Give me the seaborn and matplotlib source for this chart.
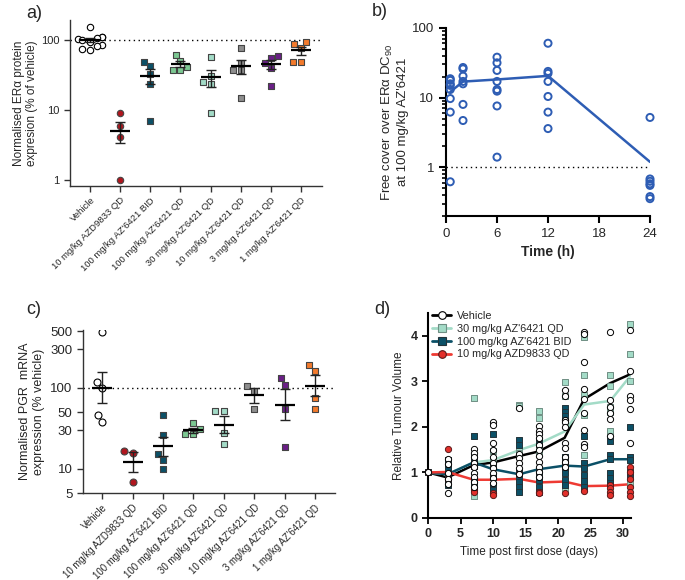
import numpy as np
import pandas as pd
import matplotlib
matplotlib.use("Agg")
import matplotlib.pyplot as plt
from matplotlib.lines import Line2D
from matplotlib.ticker import NullLocator, FixedLocator
import seaborn as sns

# ---------------- data ----------------
# a) / c) treatment groups
groups = ["Vehicle", "10 mg/kg AZD9833 QD", "100 mg/kg AZ'6421 BID",
          "100 mg/kg AZ'6421 QD", "30 mg/kg AZ'6421 QD", "10 mg/kg AZ'6421 QD",
          "3 mg/kg AZ'6421 QD", "1 mg/kg AZ'6421 QD"]
group_colors = ["white", "#b0161e", "#0b5067", "#7cc892", "#a3dbc7",
                "#8e8e8e", "#6a1f86", "#f37a2c"]
group_markers = ["o", "o", "s", "s", "s", "s", "s", "s"]

# a) ERα protein, % of vehicle
era_vehicle = [155, 112, 110, 108, 104, 100, 95, 86, 84, 75, 73]
era_azd9833 = [9.0, 6.0, 4.1, 1.0]
era_bid100 = [49.5, 43, 32.4, 24, 7.0]
era_qd100 = [62, 51, 42, 37, 37]
era_qd30 = [58.5, 31, 25.4, 24, 9]
era_qd10 = [77, 48, 37, 37, 15]
era_qd3 = [60, 56.5, 48, 40.7, 21.8]
era_qd1 = [93.6, 87.7, 78.5, 49.5, 49.5]

# c) PGR mRNA, % vehicle
pgr_vehicle = [497, 119, 100, 46.4, 38.3]
pgr_azd9833 = [16.5, 15.7, 6.9]
pgr_bid100 = [46.4, 26.1, 15.4, 12.7, 10.0]
pgr_qd100 = [36.5, 30.7, 26.6, 26.6]
pgr_qd30 = [51.1, 52.1, 27.9, 20.3]
pgr_qd10 = [105, 92.6, 54.1]
pgr_qd3 = [133, 108, 54, 18.8]
pgr_qd1 = [162, 190, 75, 55]

# b) free cover over ERα DC90
pk_times = [0.5, 2, 6, 12, 24]
cover_0h5 = [18.7, 17.7, 15.8, 15.0, 13.1, 9.7, 6.2, 0.62]
cover_2h = [27.1, 25.9, 20.4, 17.1, 15.8, 8.0, 4.7]
cover_6h = [38.1, 31.6, 24.6, 17.1, 13.1, 12.4, 7.6, 1.4]
cover_12h = [60.4, 23.8, 22.3, 17.1, 10.4, 6.2, 3.6]
cover_24h = [5.2, 0.68, 0.63, 0.58, 0.55, 0.38, 0.355]

# d) relative tumour volume
days = [0, 3, 7, 10, 14, 17, 21, 24, 28, 31]
veh_mean = [1.0, 0.89, 1.16, 1.22, 1.36, 1.46, 1.76, 2.61, 2.96, 3.15]
qd30_mean = [1.0, 0.96, 1.22, 1.27, 1.49, 1.63, 1.90, 2.49, 2.57, 3.10]
bid_mean = [1.0, 0.96, 1.22, 1.07, 0.96, 1.07, 1.15, 1.13, 1.29, 1.29]
azd_mean = [1.0, 1.01, 0.84, 0.84, 0.86, 0.78, 0.80, 0.70, 0.71, 0.74]

veh_rtv = [[1.0],
           [1.29, 1.18, 0.98, 0.85, 0.74, 0.55],
           [1.51, 1.43, 1.33, 1.21, 1.11, 0.99, 0.90, 0.79, 0.68],
           [2.10, 2.04, 1.65, 1.49, 1.33, 1.21, 1.09, 0.98, 0.87, 0.76],
           [2.41, 1.40, 1.31, 1.20, 1.09, 0.96],
           [2.01, 1.92, 1.85, 1.75, 1.60, 1.49, 1.36, 1.24, 1.13, 1.01, 0.90],
           [2.82, 2.68, 2.15, 2.10, 1.99, 1.64, 1.53, 1.35, 1.24, 1.13],
           [4.09, 4.04, 3.43, 2.83, 2.62, 2.30, 1.93, 1.63, 1.55],
           [4.09, 2.58, 2.43, 2.30, 2.18, 1.79],
           [4.12, 3.22, 2.67, 2.60, 2.39, 1.65]]
qd30_rtv = [[1.0],
            [0.97],
            [2.63, 1.25, 0.48],
            [1.46, 1.30],
            [2.49, 2.45, 1.49, 1.43],
            [2.34, 2.19, 1.48],
            [2.98, 2.67, 2.26, 0.72, 0.65],
            [3.98, 3.13, 2.71, 2.26, 1.38, 0.65],
            [3.13, 2.90, 2.43, 2.32, 1.91, 0.78],
            [4.26, 3.59, 3.01, 0.77]]
bid_rtv = [[1.0],
           [1.28, 1.15, 1.05, 0.95, 0.85, 0.72],
           [1.80, 1.31, 1.24, 1.14, 0.83, 0.76, 0.65],
           [1.85, 1.16, 0.90, 0.72, 0.61],
           [1.71, 1.60, 1.01, 0.90, 0.79, 0.68, 0.57],
           [1.71, 1.63, 0.98, 0.83, 0.68, 0.57],
           [2.41, 2.32, 2.23, 1.35, 1.20, 1.09, 0.98, 0.83, 0.72],
           [1.79, 1.20, 1.09, 0.95, 0.82, 0.68],
           [1.68, 1.38, 1.29, 0.98, 0.87, 0.76],
           [1.99, 1.35, 1.27, 1.01, 0.90]]
azd_rtv = [[1.0],
           [1.51, 0.98, 0.85],
           [0.61, 0.56],
           [0.54, 0.50],
           [0.96],
           [0.57, 0.54],
           [0.55],
           [0.59],
           [0.72, 0.65, 0.57, 0.50],
           [1.13, 1.01, 0.85, 0.68, 0.57, 0.48]]

BLUE = "#2e5db4"

# ---------------- style ----------------
sns.set_theme(style="ticks")
plt.rcParams["font.family"] = ["Liberation Sans", "DejaVu Sans"]
plt.rcParams["mathtext.default"] = "regular"
plt.rcParams["axes.unicode_minus"] = False

W, H = 685, 580
fig = plt.figure(figsize=(W / 100, H / 100), dpi=100)


def px_axes(left, top, right, bottom):
    """axes from pixel box"""
    return fig.add_axes([left / W, 1 - bottom / H, (right - left) / W, (bottom - top) / H])


def dot_panel(ax, values, geometric, size, tick_fs, lab_fs):
    ax.set_yscale("log")
    for i, vals in enumerate(values):
        edge = "black" if i == 0 else "#444444"
        sns.swarmplot(x=[groups[i]] * len(vals), y=vals, order=groups, ax=ax,
                      marker=group_markers[i], color=group_colors[i],
                      edgecolor=edge, linewidth=0.8, size=size, zorder=3)
        v = np.asarray(vals, dtype=float)
        if geometric:
            lv = np.log10(v)
            se = lv.std(ddof=1) / np.sqrt(len(lv))
            mean, lo, hi = 10 ** lv.mean(), 10 ** (lv.mean() - se), 10 ** (lv.mean() + se)
        else:
            se = v.std(ddof=1) / np.sqrt(len(v))
            mean, lo, hi = v.mean(), v.mean() - se, v.mean() + se
        ax.errorbar(i, mean, yerr=[[mean - lo], [hi - mean]], fmt="none",
                    ecolor="#222222", elinewidth=1, capsize=3.6, capthick=1, zorder=4)
        ax.hlines(mean, i - 0.33, i + 0.33, color="black", lw=1.6, zorder=5)
    ax.axhline(100, color="black", ls=(0, (1, 2.5)), lw=1, zorder=1)
    ax.set_xticks(range(len(groups)))
    ax.set_xticklabels(groups, rotation=45, ha="right", rotation_mode="anchor",
                       fontsize=lab_fs)
    ax.set_xlabel("")
    ax.tick_params(axis="y", labelsize=tick_fs, length=4, width=1, color="#333333")
    ax.tick_params(axis="x", length=4, width=1, color="#333333", pad=3)
    ax.yaxis.set_minor_locator(NullLocator())
    for s in ["top", "right"]:
        ax.spines[s].set_visible(False)
    for s in ["left", "bottom"]:
        ax.spines[s].set_color("#333333")
        ax.spines[s].set_linewidth(1)


# ---------------- a) ----------------
ax_a = px_axes(70, 20, 322, 186)
dot_panel(ax_a, [era_vehicle, era_azd9833, era_bid100, era_qd100,
                 era_qd30, era_qd10, era_qd3, era_qd1],
          geometric=False, size=4.6, tick_fs=8, lab_fs=6.8)
ax_a.set_ylim(0.82, 195)
ax_a.set_xlim(-0.67, 7.7)
ax_a.set_yticks([1, 10, 100])
ax_a.set_yticklabels(["1", "10", "100"])
ax_a.set_ylabel("Normalised ERα protein\nexpresion (% of vehicle)", fontsize=8.5,
                labelpad=2)

# ---------------- c) ----------------
ax_c = px_axes(83, 330, 335, 493)
dot_panel(ax_c, [pgr_vehicle, pgr_azd9833, pgr_bid100, pgr_qd100,
                 pgr_qd30, pgr_qd10, pgr_qd3, pgr_qd1],
          geometric=True, size=5.0, tick_fs=9.5, lab_fs=6.9)
ax_c.set_ylim(5, 520)
ax_c.set_xlim(-0.63, 7.66)
c_ticks = [5, 10, 30, 50, 100, 300, 500]
ax_c.yaxis.set_major_locator(FixedLocator(c_ticks))
ax_c.set_yticklabels([str(t) for t in c_ticks])
ax_c.set_ylabel("Normalised PGR  mRNA\nexpression (% vehicle)", fontsize=9, labelpad=4)

# ---------------- b) ----------------
ax_b = px_axes(446, 28, 650, 216)
pk_df = pd.DataFrame({
    "time": np.repeat(pk_times, [len(cover_0h5), len(cover_2h), len(cover_6h),
                                 len(cover_12h), len(cover_24h)]),
    "cover": cover_0h5 + cover_2h + cover_6h + cover_12h + cover_24h,
})
ax_b.set_yscale("log")
pk_mean = pk_df.groupby("time")["cover"].mean()
sns.lineplot(x=pk_mean.index.values, y=pk_mean.values, color=BLUE, lw=1.8, ax=ax_b,
             zorder=2)
sns.scatterplot(data=pk_df, x="time", y="cover", ax=ax_b, marker="o", s=26,
                color="none", edgecolor=BLUE, linewidth=1.4, clip_on=False, zorder=3)
ax_b.axhline(1, color="black", ls=(0, (1, 2.5)), lw=1, zorder=1)
ax_b.set_xlim(0, 24)
ax_b.set_ylim(0.2, 100)
ax_b.set_xticks([0, 6, 12, 18, 24])
ax_b.set_yticks([1, 10, 100])
ax_b.set_yticklabels(["1", "10", "100"])
ax_b.tick_params(axis="both", which="major", labelsize=9.5, length=5, width=1.5, color="black")
ax_b.tick_params(axis="y", which="minor", length=3, width=1.2, color="black")
ax_b.set_xlabel("Time (h)", fontsize=10, fontweight="bold")
ax_b.set_ylabel("Free cover over ERα DC$_{90}$\nat 100 mg/kg AZ'6421", fontsize=9.5,
                labelpad=2)
for s in ["top", "right"]:
    ax_b.spines[s].set_visible(False)
for s in ["left", "bottom"]:
    ax_b.spines[s].set_linewidth(1.5)
    ax_b.spines[s].set_color("black")

# ---------------- d) ----------------
ax_d = px_axes(428, 313, 631, 518)
d_groups = [
    ("Vehicle", veh_mean, veh_rtv, "black", "white", "black", "o", 6),
    ("30 mg/kg AZ'6421 QD", qd30_mean, qd30_rtv, "#a3dbc7", "#a3dbc7", "#6f8f84", "s", 4),
    ("100 mg/kg AZ'6421 BID", bid_mean, bid_rtv, "#0b5067", "#0b5067", "#24343a", "s", 5),
    ("10 mg/kg AZD9833 QD", azd_mean, azd_rtv, "#ee3a33", "#e3302b", "#5a1a1a", "o", 5.5),
]
handles = []
for name, mean, pts, lc, fc, ec, mk, z in d_groups:
    sns.lineplot(x=days, y=mean, color=lc, lw=1.8, ax=ax_d, zorder=2)
    pts_df = pd.DataFrame({
        "day": np.repeat(days, [len(p) for p in pts]),
        "rtv": [v for p in pts for v in p],
    })
    sns.scatterplot(data=pts_df, x="day", y="rtv", ax=ax_d, marker=mk, s=20,
                    color=fc, edgecolor=ec, linewidth=0.7, clip_on=False, zorder=z)
    handles.append(Line2D([], [], color=lc, lw=2, marker=mk, markersize=5.5,
                          markerfacecolor=fc, markeredgecolor=ec, markeredgewidth=0.8))
ax_d.legend(handles, [g[0] for g in d_groups], loc="upper left",
            bbox_to_anchor=(0.0, 1.03), frameon=False, fontsize=7.8,
            handlelength=1.7, handletextpad=0.6, labelspacing=0.25, borderaxespad=0)
ax_d.set_xlim(0, 31.2)
ax_d.set_ylim(0, 4.5)
ax_d.set_xticks([0, 5, 10, 15, 20, 25, 30])
ax_d.set_yticks([0, 1, 2, 3, 4])
ax_d.tick_params(axis="both", labelsize=9, length=4, width=1.3, color="black")
for lab in ax_d.get_xticklabels() + ax_d.get_yticklabels():
    lab.set_fontweight("bold")
ax_d.set_xlabel("Time post first dose (days)", fontsize=8.5)
ax_d.set_ylabel("Relative Tumour Volume", fontsize=8.5)
for s in ["top", "right"]:
    ax_d.spines[s].set_visible(False)
for s in ["left", "bottom"]:
    ax_d.spines[s].set_linewidth(1.5)
    ax_d.spines[s].set_color("black")

# ---------------- panel letters ----------------
for txt, x, y in [("a)", 34, 14), ("b)", 380, 12), ("c)", 34, 309), ("d)", 382, 309)]:
    fig.text(x / W, 1 - y / H, txt, fontsize=13, ha="center", va="center")

fig.savefig("out.png", dpi=100, facecolor="white")
